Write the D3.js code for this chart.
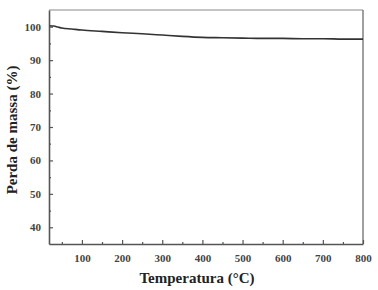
<!DOCTYPE html>
<html>
<head>
<meta charset="utf-8">
<script src="https://cdn.jsdelivr.net/npm/d3@7"></script>
<style>
  body { margin: 0; background: #fff; }
  text { font-family: "Liberation Serif", "DejaVu Serif", serif; font-weight: bold; }
</style>
</head>
<body>
<div id="wrapper"></div>
<script>
// TGA curve values
const temperatures = [20, 30, 40, 50, 75, 100, 150, 200, 250, 300, 350, 400, 450, 500, 550, 600, 650, 700, 750, 800]
const massValues = [100.3, 100.2, 99.9, 99.6, 99.3, 99.0, 98.6, 98.2, 97.9, 97.5, 97.1, 96.8, 96.7, 96.6, 96.5, 96.5, 96.4, 96.4, 96.3, 96.3]
const xTicks = [100, 200, 300, 400, 500, 600, 700, 800]
const xMinorTicks = [50, 150, 250, 350, 450, 550, 650, 750]
const yTicks = [40, 50, 60, 70, 80, 90, 100]
const yMinorTicks = [45, 55, 65, 75, 85, 95]

const dims = {
    width: 378,
    height: 290,
    margin: { top: 10, right: 15, bottom: 46, left: 49 }
}
dims.boundWidth = dims.width - dims.margin.left - dims.margin.right
dims.boundHeight = dims.height - dims.margin.top - dims.margin.bottom

const svg = d3.select("#wrapper")
    .append("svg")
        .attr("width", dims.width)
        .attr("height", dims.height)

const bound = svg.append("g")
    .attr("transform", `translate(${dims.margin.left},${dims.margin.top})`)

const xScale = d3.scaleLinear()
    .domain([18, 800])
    .range([0, dims.boundWidth])

const yScale = d3.scaleLinear()
    .domain([35, 105])
    .range([dims.boundHeight, 0])

// frame (top and right are lighter)
bound.append("line")
    .attr("x1", 0).attr("x2", dims.boundWidth)
    .attr("y1", 0).attr("y2", 0)
    .attr("stroke", "#8a8a8a").attr("stroke-width", 1.2)
bound.append("line")
    .attr("x1", dims.boundWidth).attr("x2", dims.boundWidth)
    .attr("y1", 0).attr("y2", dims.boundHeight)
    .attr("stroke", "#777").attr("stroke-width", 1.4)

// x axis, ticks inward
bound.append("g")
    .attr("class", "axis")
    .attr("transform", `translate(0,${dims.boundHeight})`)
    .call(d3.axisBottom(xScale).tickValues(xTicks).tickSizeInner(-4).tickSizeOuter(0).tickPadding(10))
bound.append("g")
    .attr("transform", `translate(0,${dims.boundHeight})`)
    .call(d3.axisBottom(xScale).tickValues(xMinorTicks).tickSizeInner(-2).tickSizeOuter(0).tickFormat(""))
    .call(g => g.select(".domain").remove())

// y axis
bound.append("g")
    .attr("class", "axis")
    .call(d3.axisLeft(yScale).tickValues(yTicks).tickSizeInner(-4).tickSizeOuter(0).tickPadding(8))
bound.append("g")
    .call(d3.axisLeft(yScale).tickValues(yMinorTicks).tickSizeInner(-2).tickSizeOuter(0).tickFormat(""))
    .call(g => g.select(".domain").remove())

bound.selectAll(".axis")
    .attr("font-family", "Liberation Serif")
    .attr("font-size", 11)
bound.selectAll(".domain").attr("stroke", "#555").attr("stroke-width", 1.6)
bound.selectAll(".tick line").attr("stroke", "#555").attr("stroke-width", 1.2)
bound.selectAll(".tick text")
    .attr("fill", "#444")
    .attr("font-family", "Liberation Serif")
    .attr("font-weight", "bold")

// curve
const line = d3.line()
    .x((d, i) => xScale(temperatures[i]))
    .y(d => yScale(d))
    .curve(d3.curveMonotoneX)

bound.append("path")
    .datum(massValues)
    .attr("d", line)
    .attr("fill", "none")
    .attr("stroke", "#333")
    .attr("stroke-width", 1.6)

// axis titles
svg.append("text")
    .attr("x", 197)
    .attr("y", 283)
    .attr("text-anchor", "middle")
    .attr("fill", "#222")
    .style("font-size", "15px")
    .text("Temperatura (°C)")

svg.append("text")
    .attr("transform", "translate(17,130) rotate(-90)")
    .attr("text-anchor", "middle")
    .attr("fill", "#222")
    .style("font-size", "15px")
    .text("Perda de massa (%)")
</script>
</body>
</html>
